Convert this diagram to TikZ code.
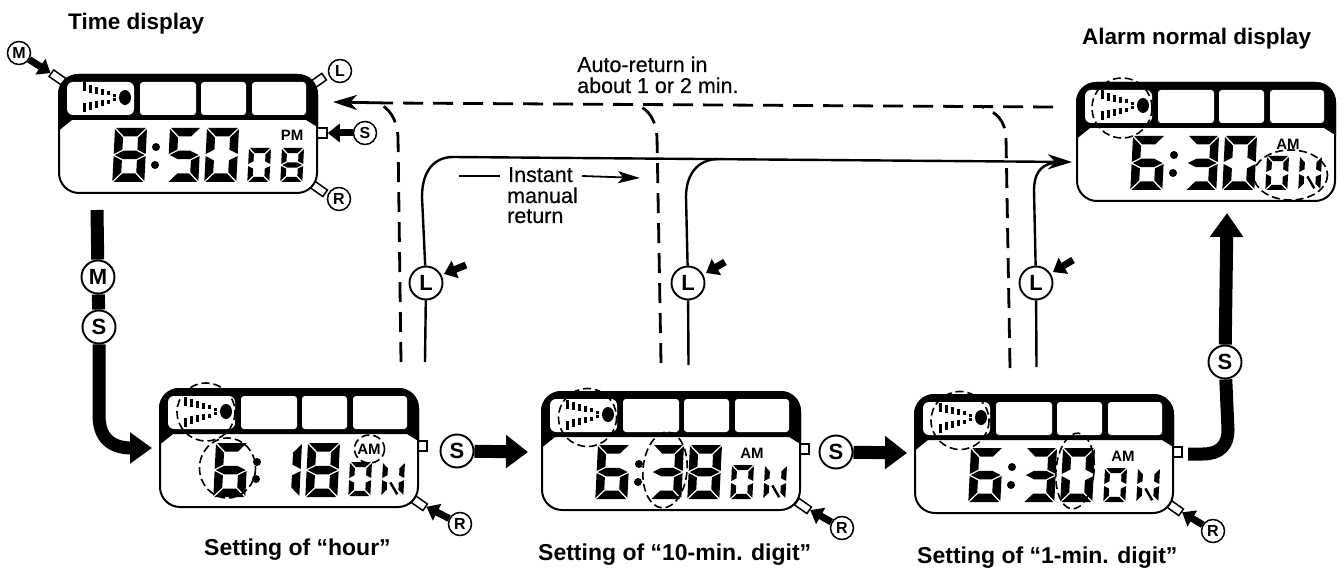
\documentclass[tikz,border=0pt]{standalone}
\usepackage{fontspec}
\setmainfont{Liberation Sans}
\newfontfamily\semib[FakeBold=0.35]{Liberation Sans}
\usetikzlibrary{arrows.meta}
\newcommand{\Sga}{\fill (\G,0) -- ({\W-\G},0) -- ({\W-\G-\T},\T) -- ({\G+\T},\T) -- cycle;}
\newcommand{\Sgd}{\fill (\G,\H) -- ({\W-\G},\H) -- ({\W-\G-\T},{\H-\T}) -- ({\G+\T},{\H-\T}) -- cycle;}
\newcommand{\Sgg}{\fill (\G,{\H/2}) -- ({\G+\T},{\H/2-\T/2}) -- ({\W-\G-\T},{\H/2-\T/2}) -- ({\W-\G},{\H/2}) -- ({\W-\G-\T},{\H/2+\T/2}) -- ({\G+\T},{\H/2+\T/2}) -- cycle;}
\newcommand{\Sgf}{\fill (0,\G) -- (\T,{\G+\T}) -- (\T,{\H/2-\T/2-\G}) -- (0,{\H/2-\G}) -- cycle;}
\newcommand{\Sge}{\fill (0,{\H/2+\G}) -- (\T,{\H/2+\T/2+\G}) -- (\T,{\H-\G-\T}) -- (0,{\H-\G}) -- cycle;}
\newcommand{\Sgb}{\fill (\W,\G) -- ({\W-\T},{\G+\T}) -- ({\W-\T},{\H/2-\T/2-\G}) -- (\W,{\H/2-\G}) -- cycle;}
\newcommand{\Sgc}{\fill (\W,{\H/2+\G}) -- ({\W-\T},{\H/2+\T/2+\G}) -- ({\W-\T},{\H-\G-\T}) -- (\W,{\H-\G}) -- cycle;}
\newcommand{\Sgn}{\draw[line width=2.4] ({\W*.38},{\H*.6}) -- ({\W*.72},{\H*.95});}
\newcommand{\sevenseg}[6]{\begin{scope}[shift={(#1,#2)},xslant=.05]
 \def\W{#3}\def\H{#4}\def\T{#5}\def\G{1.1}
 \edef\SegList{#6}
 \foreach \s in \SegList {\csname Sg\s\endcsname}
 \end{scope}}
\newcommand{\Ze}{a,b,c,d,e,f}
\newcommand{\Ei}{a,b,c,d,e,f,g}
\newcommand{\Si}{a,c,d,e,f,g}
\newcommand{\Fi}{a,c,d,f,g}
\newcommand{\Th}{a,b,c,d,g}
\newcommand{\On}{b,c}
\newcommand{\Nn}{b,c,e,f,n}
\newcommand{\bigthree}[3]{%
 \sevenseg{56}{53}{32}{54}{8.5}{#1}
 \sevenseg{111}{53}{31}{54}{8.5}{#2}
 \sevenseg{148}{53}{32}{54}{8.5}{#3}
 \fill (97,72) circle (4); \fill (96,90) circle (4);}
\newcommand{\onword}{%
 \sevenseg{190}{73}{22}{34}{5.2}{\Ze}
 \sevenseg{223}{73}{22}{34}{5.2}{\Nn}}
\newcommand{\watchbody}{%
 \draw[line width=2,fill=white,rounded corners=20] (0,0) rectangle (258,118);
 \begin{scope}
 \clip (-2,-2) -- (260,-2) -- (260,53) -- (247,45) -- (13,45) -- (-2,57) -- cycle;
 \fill[rounded corners=20] (-1,-1) rectangle (259,118);
 \end{scope}
 \fill[white,rounded corners=6] (8,7) rectangle (75,40);
 \fill[white,rounded corners=3] (81,7) rectangle (137,40);
 \fill[white,rounded corners=3] (142,7) rectangle (187,40);
 \fill[white,rounded corners=3] (193,7) rectangle (247,40);
 \fill (66,22.5) ellipse [x radius=6,y radius=7.5];
 \foreach \xx/\hh in {25/9,31/8,37/7,43/5.5,49/4,55/3}{
  \fill ({\xx-1.5},{12+(\xx-25)*.27-\hh/2}) rectangle ({\xx+1.5},{12+(\xx-25)*.27+\hh/2});
  \fill ({\xx-1.5},{33-(\xx-25)*.27-\hh/2}) rectangle ({\xx+1.5},{33-(\xx-25)*.27+\hh/2});}
}
\tikzset{
 btn/.style={draw,line width=1.5,fill=white,inner sep=0,minimum width=15,minimum height=8},
 sqbtn/.style={draw,line width=1.5,fill=white,inner sep=0,minimum size=10},
 smallc/.style={circle,draw,line width=1.5,fill=white,inner sep=0,minimum size=23,font=\fontsize{16}{16}\selectfont\bfseries},
 bigc/.style={circle,draw,line width=1.9,fill=white,inner sep=0,minimum size=33,font=\fontsize{22}{22}\selectfont\bfseries},
 title/.style={anchor=base west,inner sep=0,font=\fontsize{22.5}{22.5}\selectfont\bfseries},
 settitle/.style={anchor=base west,inner sep=0,font=\fontsize{23}{23}\selectfont\bfseries},
 note/.style={anchor=base west,inner sep=0,font=\fontsize{21.5}{21.5}\selectfont\semib},
 ampm/.style={inner sep=0,font=\fontsize{15}{15}\selectfont\bfseries},
 hl/.style={line width=1.6,dash pattern=on 8 off 4},
 press/.style={line width=7,-{Triangle[length=12,width=18]}},
 thick path/.style={line width=13},
 thin path/.style={line width=2.4},
 auto path/.style={line width=2.8,dash pattern=on 20 off 10},
 barb/.style={-{Stealth[length=24,width=15,inset=7]}}
}
\begin{document}
\begin{tikzpicture}[x=1pt,y=-1pt]
\useasboundingbox (0,0) rectangle (1340,569);
\fill[white] (0,0) rectangle (1340,569);
% ---- buttons (behind bodies)
\node[btn,rotate=-35] (bM) at (57.5,77.5) {};
\node[btn,rotate=35] (bL) at (318,81) {};
\node[sqbtn] (bS) at (322,133) {};
\node[btn,rotate=-35] (bR) at (319,189) {};
\node[sqbtn] (b1S) at (422,446) {};
\node[btn,rotate=-35] (b1R) at (419,503) {};
\node[sqbtn] (b2S) at (804,449) {};
\node[btn,rotate=-35] (b2R) at (803,506) {};
\node[sqbtn] (b3S) at (1177,452) {};
\node[btn,rotate=-35] (b3R) at (1175,508) {};
% ---- time display
\begin{scope}[shift={(59,75)}]
 \watchbody
 \bigthree{\Ei}{\Fi}{\Ze}
 \sevenseg{190}{73}{22}{34}{5.2}{\Ze}
 \sevenseg{223}{73}{22}{34}{5.2}{\Ei}
 \node[ampm] (pm) at (233,60) {PM};
\end{scope}
% ---- hour
\begin{scope}[shift={(160,389)}]
 \watchbody
 \sevenseg{56}{54}{32}{54}{8.5}{\Si}
 \sevenseg{111}{54}{31}{54}{8.5}{\On}
 \sevenseg{148}{54}{32}{54}{8.5}{\Ei}
 \fill (97,73) circle (4); \fill (96,90) circle (4);
 \onword
 \node[ampm] (am1) at (209,60) {AM};
 \draw[hl] (46,23) ellipse [x radius=29,y radius=29];
 \draw[hl] (67.5,79) ellipse [x radius=28,y radius=30];
 \draw[hl] (209.5,60) ellipse [x radius=15,y radius=14];
\end{scope}
% ---- 10-min
\begin{scope}[shift={(542,392)}]
 \watchbody
 \bigthree{\Si}{\Th}{\Ei}
 \onword
 \node[ampm] (am2) at (210,61) {AM};
 \draw[hl] (45.5,25.5) ellipse [x radius=29,y radius=29];
 \draw[hl,rotate around={-5:(123,78)}] (123,78) ellipse [x radius=22,y radius=38];
\end{scope}
% ---- 1-min
\begin{scope}[shift={(915,395)}]
 \watchbody
 \bigthree{\Si}{\Th}{\Ze}
 \onword
 \node[ampm] (am3) at (208,61) {AM};
 \draw[hl] (45,25.5) ellipse [x radius=29,y radius=29];
 \draw[hl,rotate around={-5:(160,76)}] (160,76) ellipse [x radius=19,y radius=38];
\end{scope}
% ---- alarm
\begin{scope}[shift={(1077,83)}]
 \watchbody
 \bigthree{\Si}{\Th}{\Ze}
 \onword
 \node[ampm] (am4) at (211,61) {AM};
 \draw[hl] (45,25) ellipse [x radius=30,y radius=30];
 \draw[hl] (213.5,92) ellipse [x radius=37,y radius=25];
\end{scope}
% ---- labels
\node[title] (t0) at (68,30) {Time display};
\node[title] (t4) at (1082,45) {Alarm normal display};
\node[settitle] (t1) at (204,555) {Setting of “hour”};
\node[settitle] (t2) at (538,560) {Setting of “10-min. digit”};
\node[settitle] (t3) at (917,563) {Setting of “1-min. digit”};
\node[note] (a1) at (577,72) {Auto-return in};
\node[note] (a2) at (577,93) {about 1 or 2 min.};
\node[note] (i1) at (508,182) {Instant};
\node[note] (i2) at (507,203) {manual};
\node[note] (i3) at (507,223) {return};
% ---- small circled letters
\node[smallc] (cM) at (19,53) {M};
\node[smallc] (cL) at (340,71) {L};
\node[smallc] (cS) at (365,133) {S};
\node[smallc] (cR) at (339,199) {R};
\node[smallc] (c1R) at (460,524) {R};
\node[smallc] (c2R) at (842,528) {R};
\node[smallc] (c3R) at (1213,531) {R};
\draw[press] (cM) -- (bM);
\draw[press] (cS) -- (bS);
\draw[press] (c1R) -- (b1R);
\draw[press] (c2R) -- (b2R);
\draw[press] (c3R) -- (b3R);
% ---- thick main flow
\node[bigc] (mM) at (98,277) {M};
\node[bigc] (mS) at (99,327) {S};
\node[bigc] (s1) at (457,451) {S};
\node[bigc] (s2) at (836,452) {S};
\node[bigc] (s3) at (1225,362) {S};
\coordinate (top) at (97,210);
\coordinate (bend1) at (99,415);
\coordinate (bend2) at (132,448);
\coordinate (tip1) at (152,448);
\draw[thick path] (top) -- (mM);
\draw[thick path] (mM) -- (mS);
\draw[thick path,-{Triangle[length=22,width=30]}] (mS) -- (bend1) .. controls (99,437) and (110,448) .. (bend2) -- (tip1);
\coordinate (s1e) at (528,452);
\coordinate (s2e) at (907,453);
\draw[thick path,-{Triangle[length=22,width=32]}] (s1) -- (s1e);
\draw[thick path,-{Triangle[length=22,width=32]}] (s2) -- (s2e);
\coordinate (o0) at (1188,454);
\coordinate (o1) at (1203,454);
\coordinate (o2) at (1228,430);
\coordinate (o3) at (1227,213);
\draw[thick path] (o0) -- (o1) .. controls (1220,454) and (1228,445) .. (o2) -- (s3);
\draw[thick path,-{Triangle[length=24,width=32]}] (s3) -- (o3);
% ---- instant manual return
\node[bigc] (L1) at (426,283) {L};
\node[bigc] (L2) at (688,283) {L};
\node[bigc] (L3) at (1036,283) {L};
\coordinate (L1b) at (425,362);
\coordinate (L2b) at (688.5,365);
\coordinate (L3b) at (1036.5,367);
\coordinate (arr) at (1072,162);
\draw[thin path] (L1) -- (L1b);
\draw[thin path] (L2) -- (L2b);
\draw[thin path] (L3) -- (L3b);
\draw[thin path,barb] (L1) -- (422,197) .. controls (422,170) and (435,157) .. (453,157) -- (arr);
\draw[thin path] (L2) -- (686,197) .. controls (686,175) and (697,160) .. (717,159);
\draw[thin path] (L3) -- (1034,190) .. controls (1034,175) and (1040,165) .. (1053,163);
\coordinate (pL1a) at (466,265); \coordinate (pL1b) at (444,274);
\coordinate (pL2a) at (725,262); \coordinate (pL2b) at (706,273);
\coordinate (pL3a) at (1073,260); \coordinate (pL3b) at (1053,272);
\draw[press] (pL1a) -- (pL1b);
\draw[press] (pL2a) -- (pL2b);
\draw[press] (pL3a) -- (pL3b);
\coordinate (m1) at (459,176); \coordinate (m2) at (500,176);
\coordinate (m3) at (582,176); \coordinate (m4) at (640,178);
\draw[line width=1.8] (m1) -- (m2);
\draw[line width=1.8,-{Stealth[length=22,width=12,inset=5]}] (m3) -- (m4);
% ---- auto return
\coordinate (rt) at (1053,107);
\coordinate (j) at (388,103);
\coordinate (lt) at (333,102);
\draw[line width=2.8,-{Stealth[length=24,width=15,inset=7]}] (j) -- (lt);
\draw[auto path] (rt) -- (j);
\draw[auto path] (401,362) -- (398,137) .. controls (397,120) and (390,107) .. (375,102);
\draw[auto path] (661,363) -- (657,137) .. controls (656,122) and (650,109) .. (635,104);
\draw[auto path] (1010,368) -- (1006,137) .. controls (1005,122) and (998,112) .. (980,106);
\end{tikzpicture}
\end{document}
